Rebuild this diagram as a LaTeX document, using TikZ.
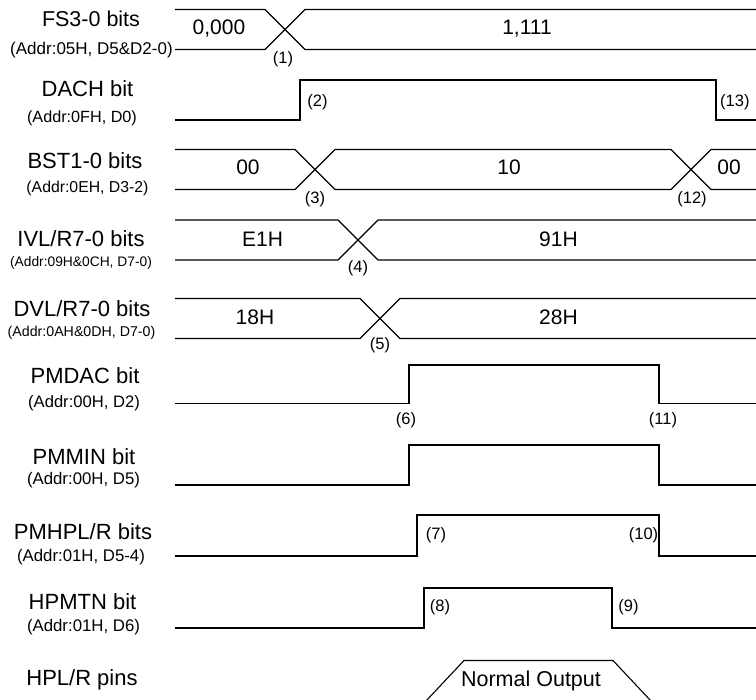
\documentclass[tikz,border=0pt]{standalone}
\usepackage{fontspec}
\setmainfont{Liberation Sans}
\newcommand\fz[1]{\fontsize{#1}{#1}\selectfont}
\begin{document}
\begin{tikzpicture}[x=1pt,y=-1pt,
  wave/.style={draw=black, line width=1.1pt},
  mainlab/.style={anchor=base, inner sep=0pt, font=\fz{22}},
  sublab/.style={anchor=base, inner sep=0pt},
  val/.style={anchor=base, inner sep=0pt, font=\fz{21}},
  num/.style={anchor=base, inner sep=0pt, font=\fz{16.5}}]
\useasboundingbox (0,0) rectangle (756,700);

% ---------- left labels ----------
\node[mainlab, font=\fz{21.5}] (l1) at (91,27) {FS3-0 bits};
\node[sublab, font=\fz{17}] (s1) at (91.5,55) {(Addr:05H, D5\&D2-0)};
\node[mainlab] (l2) at (87.5,96.7) {DACH bit};
\node[sublab, font=\fz{16.2}] (s2) at (82,123) {(Addr:0FH, D0)};
\node[mainlab] (l3) at (85,168.3) {BST1-0 bits};
\node[sublab, font=\fz{15.8}] (s3) at (87.5,193) {(Addr:0EH, D3-2)};
\node[mainlab] (l4) at (81,246.7) {IVL/R7-0 bits};
\node[sublab, font=\fz{13.8}] (s4) at (81,266.7) {(Addr:09H\&0CH, D7-0)};
\node[mainlab] (l5) at (82,316.7) {DVL/R7-0 bits};
\node[sublab, font=\fz{14.2}] (s5) at (81.5,336.7) {(Addr:0AH\&0DH, D7-0)};
\node[mainlab] (l6) at (85,383.3) {PMDAC bit};
\node[sublab, font=\fz{16.6}] (s6) at (84,408) {(Addr:00H, D2)};
\node[mainlab] (l7) at (84,465) {PMMIN bit};
\node[sublab, font=\fz{16.8}] (s7) at (83.5,485) {(Addr:00H, D5)};
\node[mainlab] (l8) at (83,540) {PMHPL/R bits};
\node[sublab, font=\fz{16.8}] (s8) at (81,562) {(Addr:01H, D5-4)};
\node[mainlab] (l9) at (82.5,610) {HPMTN bit};
\node[sublab, font=\fz{16.8}] (s9) at (83.5,631.7) {(Addr:01H, D6)};
\node[mainlab] (l10) at (82,685) {HPL/R pins};

% ---------- FS3-0 bus ----------
\draw[wave] (175,9.5) -- (265,9.5) -- (305,49.5) -- (756,49.5);
\draw[wave] (175,49.5) -- (265,49.5) -- (305,9.5) -- (756,9.5);
\node[val] (v1a) at (219,35) {0,000};
\node[val] (v1b) at (527,35) {1,111};
\node[num] (n1) at (283,64) {(1)};

% ---------- DACH ----------
\draw[wave] (175,120) -- (300,120) -- (300,80) -- (716,80) -- (716,120) -- (756,120);
\node[num] (n2) at (317.5,107) {(2)};
\node[num, anchor=base west] (n13) at (720,107) {(13)};

% ---------- BST1-0 bus ----------
\draw[wave] (175,149.5) -- (295,149.5) -- (335,189.5) -- (671,189.5) -- (711,149.5) -- (756,149.5);
\draw[wave] (175,189.5) -- (295,189.5) -- (335,149.5) -- (671,149.5) -- (711,189.5) -- (756,189.5);
\node[val] (v3a) at (248,175) {00};
\node[val] (v3b) at (509,175) {10};
\node[val] (v3c) at (729,175) {00};
\node[num] (n3) at (315,204) {(3)};
\node[num] (n12) at (692,204) {(12)};

% ---------- IVL/R bus ----------
\draw[wave] (175,220) -- (338,220) -- (378,260) -- (756,260);
\draw[wave] (175,260) -- (338,260) -- (378,220) -- (756,220);
\node[val] (v4a) at (262.5,247) {E1H};
\node[val] (v4b) at (558.5,247) {91H};
\node[num] (n4) at (358,273) {(4)};

% ---------- DVL/R bus ----------
\draw[wave] (175,298.5) -- (360,298.5) -- (400,338.5) -- (756,338.5);
\draw[wave] (175,338.5) -- (360,338.5) -- (400,298.5) -- (756,298.5);
\node[val] (v5a) at (255,325) {18H};
\node[val] (v5b) at (558.5,325) {28H};
\node[num] (n5) at (380,350) {(5)};

% ---------- PMDAC ----------
\draw[wave] (175,403.5) -- (409,403.5) -- (409,365) -- (659,365) -- (659,403.5) -- (756,403.5);
\node[num] (n6) at (406,425) {(6)};
\node[num] (n11) at (663,425) {(11)};

% ---------- PMMIN ----------
\draw[wave] (175,485) -- (409,485) -- (409,445) -- (659,445) -- (659,485) -- (756,485);

% ---------- PMHPL/R ----------
\draw[wave] (175,556) -- (417,556) -- (417,515) -- (659,515) -- (659,556) -- (756,556);
\node[num] (n7) at (436,540) {(7)};
\node[num] (n10) at (643.5,540) {(10)};

% ---------- HPMTN ----------
\draw[wave] (175,628) -- (424,628) -- (424,588) -- (612,588) -- (612,628) -- (756,628);
\node[num] (n8) at (440,611.7) {(8)};
\node[num] (n9) at (628.5,611.7) {(9)};

% ---------- HPL/R pins ----------
\draw[wave] (426,701) -- (464,660.5) -- (613,660.5) -- (651,701);
\node[val, font=\fz{21.5}] (out) at (531,686.7) {Normal Output};
\end{tikzpicture}
\end{document}
